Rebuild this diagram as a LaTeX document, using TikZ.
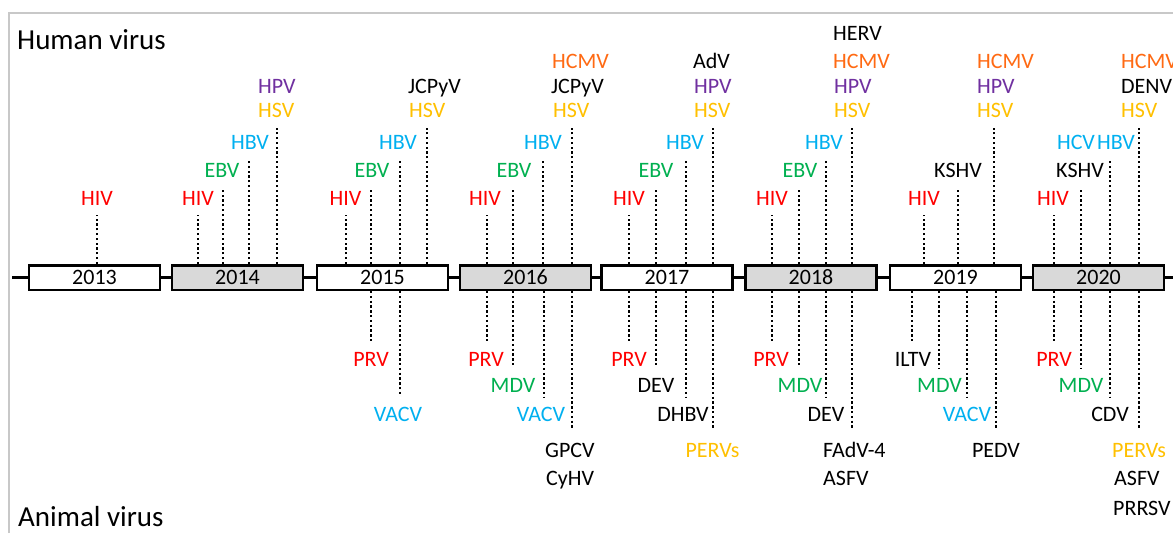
\documentclass[tikz,border=0pt]{standalone}
\usepackage{fontspec}
\setmainfont{Carlito}
\definecolor{vred}{HTML}{FF0000}
\definecolor{vgreen}{HTML}{00B050}
\definecolor{vblue}{HTML}{00B0F0}
\definecolor{vgold}{HTML}{FFC000}
\definecolor{vpurple}{HTML}{7030A0}
\definecolor{vorange}{HTML}{FF6A13}
\definecolor{vgrey}{HTML}{D9D9D9}
\definecolor{framegrey}{HTML}{C8C8C8}
\tikzset{
  yearbox/.style={draw=black, line width=2.5pt, minimum width=131pt, minimum height=24.5pt, inner sep=0pt, font=\fontsize{22}{26}\selectfont},
  conn/.style={line width=2.3pt, black},
  dotl/.style={line width=2.3pt, black, dash pattern=on 2.3pt off 2.5pt},
  vl/.style={inner sep=0pt, font=\fontsize{22}{26}\selectfont},
  head/.style={inner sep=0pt, anchor=base west, font=\fontsize{29}{34}\selectfont},
}
% top dotted line: name, box, x, ytop
\newcommand\mkup[4]{\coordinate (#1) at (#3,#4); \draw[dotl] (#2.north -| #1) -- (#1);}
% bottom dotted line: name, box, x, yend
\newcommand\mkdn[4]{\coordinate (#1) at (#3,#4); \draw[dotl] (#2.south -| #1) -- (#1);}
% label: name, colour, anchor, x, baseline y, text
\newcommand\vlab[6]{\node[vl, text=#2, anchor=#3] (#1) at (#4,#5) {#6};}
\begin{document}
\begin{tikzpicture}[x=1pt, y=-1pt]
\clip (0,0) rectangle (1173,533);
\fill[white] (0,0) rectangle (1173,533);
\draw[framegrey, line width=1.5pt] (9,533) -- (9,13) -- (1173,13);

\node[head] (human) at (17,49) {Human virus};
\node[head] (animal) at (18,526) {Animal virus};

% year boxes
\node[yearbox, fill=white] (b13) at (94.5,277.5) {2013};
\node[yearbox, fill=vgrey] (b14) at (237.5,277.5) {2014};
\node[yearbox, fill=white] (b15) at (382.5,277.5) {2015};
\node[yearbox, fill=vgrey] (b16) at (525.5,277.5) {2016};
\node[yearbox, fill=white] (b17) at (667,277.5) {2017};
\node[yearbox, fill=vgrey] (b18) at (811,277.5) {2018};
\node[yearbox, fill=white] (b19) at (955.5,277.5) {2019};
\node[yearbox, fill=vgrey] (b20) at (1098.5,277.5) {2020};
\coordinate (tstart) at (12,277.5);
\coordinate (tend) at (1180,277.5);
\draw[conn] (tstart) -- (b13.west);
\draw[conn] (b13.east) -- (b14.west);
\draw[conn] (b14.east) -- (b15.west);
\draw[conn] (b15.east) -- (b16.west);
\draw[conn] (b16.east) -- (b17.west);
\draw[conn] (b17.east) -- (b18.west);
\draw[conn] (b18.east) -- (b19.west);
\draw[conn] (b19.east) -- (b20.west);
\draw[conn] (b20.east) -- (tend);

% ---------- top (human virus) ----------
% 2013
\mkup{u13a}{b13}{97}{215}
\vlab{h13a}{vred}{base}{97}{205}{HIV}
% 2014
\mkup{u14a}{b14}{198}{215}
\mkup{u14b}{b14}{223}{190}
\mkup{u14c}{b14}{249}{161}
\mkup{u14d}{b14}{277}{128}
\vlab{h14a}{vred}{base}{198}{205}{HIV}
\vlab{h14b}{vgreen}{base}{222}{177}{EBV}
\vlab{h14c}{vblue}{base}{250}{149}{HBV}
\vlab{h14d}{vgold}{base west}{258}{117}{HSV}
\vlab{h14e}{vpurple}{base west}{258}{93}{HPV}
% 2015
\mkup{u15a}{b15}{346}{215}
\mkup{u15b}{b15}{371}{190}
\mkup{u15c}{b15}{400}{161}
\mkup{u15d}{b15}{427}{128}
\vlab{h15a}{vred}{base}{345.5}{205}{HIV}
\vlab{h15b}{vgreen}{base}{372}{177}{EBV}
\vlab{h15c}{vblue}{base}{398}{149}{HBV}
\vlab{h15d}{vgold}{base west}{409}{117}{HSV}
\vlab{h15e}{black}{base west}{408}{93}{JCPyV}
% 2016
\mkup{u16a}{b16}{487}{215}
\mkup{u16b}{b16}{513}{190}
\mkup{u16c}{b16}{543}{161}
\mkup{u16d}{b16}{572}{128}
\vlab{h16a}{vred}{base}{485}{205}{HIV}
\vlab{h16b}{vgreen}{base}{514}{177}{EBV}
\vlab{h16c}{vblue}{base}{543}{149}{HBV}
\vlab{h16d}{vgold}{base west}{553}{117}{HSV}
\vlab{h16e}{black}{base west}{551}{93}{JCPyV}
\vlab{h16f}{vorange}{base west}{552}{68}{HCMV}
% 2017
\mkup{u17a}{b17}{629}{215}
\mkup{u17b}{b17}{656}{190}
\mkup{u17c}{b17}{686}{161}
\mkup{u17d}{b17}{713}{128}
\vlab{h17a}{vred}{base}{629}{205}{HIV}
\vlab{h17b}{vgreen}{base}{656}{177}{EBV}
\vlab{h17c}{vblue}{base}{685}{149}{HBV}
\vlab{h17d}{vgold}{base west}{694}{117}{HSV}
\vlab{h17e}{vpurple}{base west}{694}{93}{HPV}
\vlab{h17f}{black}{base west}{693}{68}{AdV}
% 2018
\mkup{u18a}{b18}{772}{215}
\mkup{u18b}{b18}{799}{190}
\mkup{u18c}{b18}{826}{161}
\mkup{u18d}{b18}{852}{128}
\vlab{h18a}{vred}{base}{772}{205}{HIV}
\vlab{h18b}{vgreen}{base}{800}{177}{EBV}
\vlab{h18c}{vblue}{base}{824}{149}{HBV}
\vlab{h18d}{vgold}{base west}{834}{117}{HSV}
\vlab{h18e}{vpurple}{base west}{834}{93}{HPV}
\vlab{h18f}{vorange}{base west}{833}{68}{HCMV}
\vlab{h18g}{black}{base west}{833}{40}{HERV}
% 2019
\mkup{u19a}{b19}{924}{215}
\mkup{u19b}{b19}{958}{190}
\mkup{u19c}{b19}{994}{128}
\vlab{h19a}{vred}{base}{924}{205}{HIV}
\vlab{h19b}{black}{base}{958}{177}{KSHV}
\vlab{h19c}{vgold}{base west}{977}{117}{HSV}
\vlab{h19d}{vpurple}{base west}{977}{93}{HPV}
\vlab{h19e}{vorange}{base west}{977}{68}{HCMV}
% 2020
\mkup{u20a}{b20}{1054}{215}
\mkup{u20b}{b20}{1081}{190}
\mkup{u20c}{b20}{1110}{161}
\mkup{u20d}{b20}{1139}{128}
\vlab{h20a}{vred}{base}{1053}{205}{HIV}
\vlab{h20b}{black}{base}{1080}{177}{KSHV}
\vlab{h20c}{vblue}{base}{1076}{149}{HCV}
\vlab{h20d}{vblue}{base}{1116}{149}{HBV}
\vlab{h20e}{vgold}{base west}{1121}{117}{HSV}
\vlab{h20f}{black}{base west}{1121}{93}{DENV}
\vlab{h20g}{vorange}{base west}{1121}{68}{HCMV}

% ---------- bottom (animal virus) ----------
% 2015
\mkdn{d15a}{b15}{371}{343}
\mkdn{d15b}{b15}{400}{395}
\vlab{a15a}{vred}{base}{371}{366}{PRV}
\vlab{a15b}{vblue}{base}{398}{421}{VACV}
% 2016
\mkdn{d16a}{b16}{487}{342}
\mkdn{d16b}{b16}{513}{367}
\mkdn{d16c}{b16}{544}{397}
\mkdn{d16d}{b16}{572}{428}
\vlab{a16a}{vred}{base}{486}{366}{PRV}
\vlab{a16b}{vgreen}{base}{513}{392}{MDV}
\vlab{a16c}{vblue}{base}{541}{421}{VACV}
\vlab{a16d}{black}{base west}{545}{457}{GPCV}
\vlab{a16e}{black}{base west}{546}{485}{CyHV}
% 2017
\mkdn{d17a}{b17}{629}{342}
\mkdn{d17b}{b17}{656}{367}
\mkdn{d17c}{b17}{686}{397}
\mkdn{d17d}{b17}{713}{428}
\vlab{a17a}{vred}{base}{629}{366}{PRV}
\vlab{a17b}{black}{base}{656}{392}{DEV}
\vlab{a17c}{black}{base}{683}{421}{DHBV}
\vlab{a17d}{vgold}{base}{712.5}{457}{PERVs}
% 2018
\mkdn{d18a}{b18}{772}{342}
\mkdn{d18b}{b18}{799}{367}
\mkdn{d18c}{b18}{826}{397}
\mkdn{d18d}{b18}{852}{428}
\vlab{a18a}{vred}{base}{771}{366}{PRV}
\vlab{a18b}{vgreen}{base}{800}{392}{MDV}
\vlab{a18c}{black}{base}{826}{421}{DEV}
\vlab{a18d}{black}{base west}{823}{457}{FAdV-4}
\vlab{a18e}{black}{base west}{823}{485}{ASFV}
% 2019
\mkdn{d19a}{b19}{912}{343}
\mkdn{d19b}{b19}{939}{368}
\mkdn{d19c}{b19}{967}{397}
\mkdn{d19d}{b19}{996}{428}
\vlab{a19a}{black}{base}{913}{366}{ILTV}
\vlab{a19b}{vgreen}{base}{939.5}{392}{MDV}
\vlab{a19c}{vblue}{base}{967}{421}{VACV}
\vlab{a19d}{black}{base}{996}{457}{PEDV}
% 2020
\mkdn{d20a}{b20}{1054}{343}
\mkdn{d20b}{b20}{1081}{368}
\mkdn{d20c}{b20}{1110}{397}
\mkdn{d20d}{b20}{1139}{428}
\vlab{a20a}{vred}{base}{1054}{366}{PRV}
\vlab{a20b}{vgreen}{base}{1081}{392}{MDV}
\vlab{a20c}{black}{base}{1110}{421}{CDV}
\vlab{a20d}{vgold}{base west}{1112}{457}{PERVs}
\vlab{a20e}{black}{base west}{1114}{485}{ASFV}
\vlab{a20f}{black}{base west}{1113}{515}{PRRSV}
\end{tikzpicture}
\end{document}
